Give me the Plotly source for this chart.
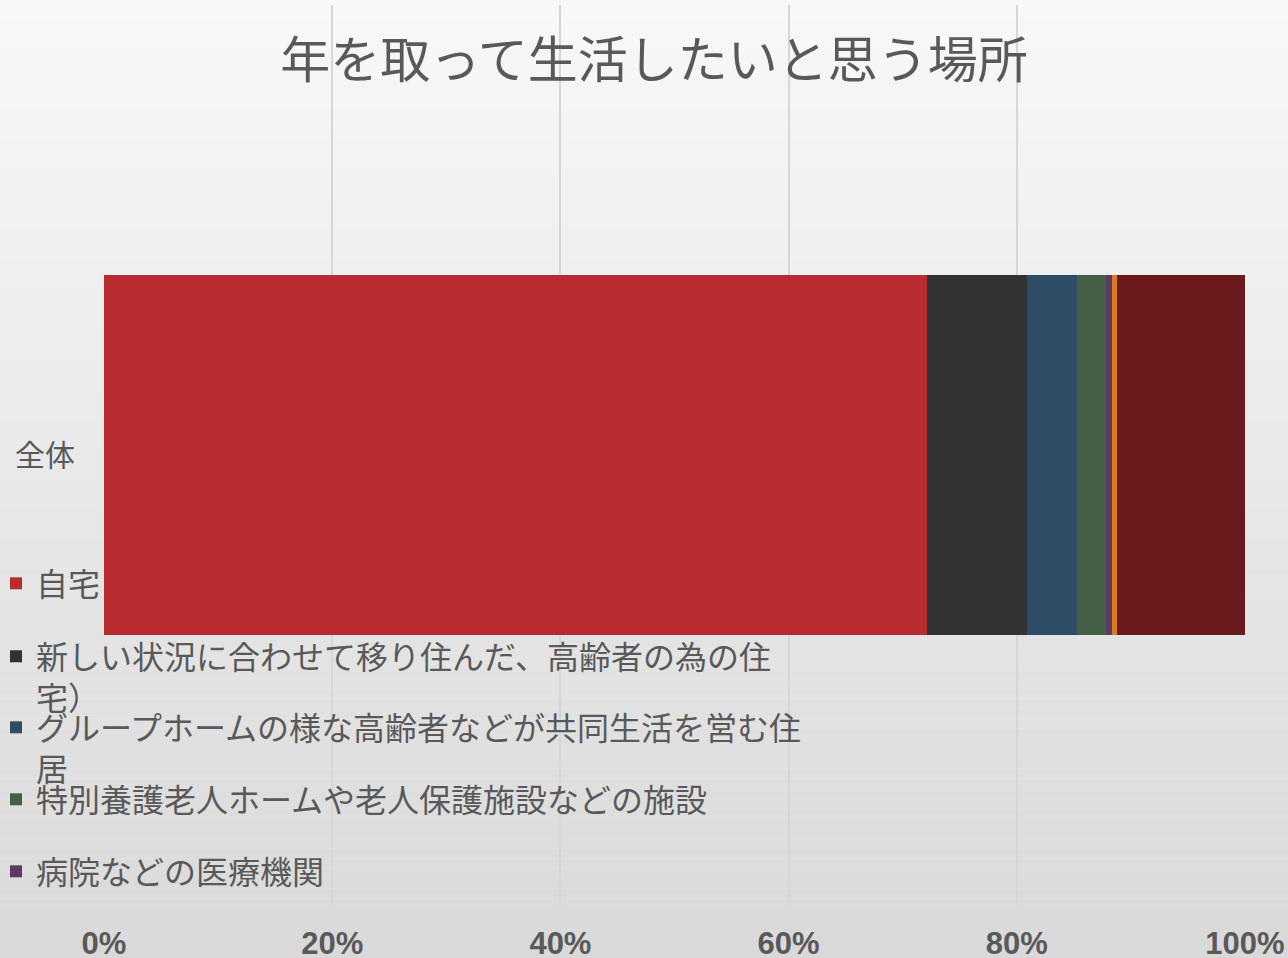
import plotly.graph_objects as go

# 年を取って生活したいと思う場所（全体, 100%積み上げ）
category = ["全体"]
series_names = [
    "自宅",
    "新しい状況に合わせて移り住んだ、高齢者の為の住<br>宅）",
    "グループホームの様な高齢者などが共同生活を営む住<br>居",
    "特別養護老人ホームや老人保護施設などの施設",
    "病院などの医療機関",
    "その他",
    "わからない",
]
series_values = [72.1, 8.8, 4.4, 2.5, 0.55, 0.44, 11.21]
series_colors = ["#b82c30", "#333333", "#2d4d66", "#445f45", "#5c3a63", "#d97b20", "#6b1b1e"]
in_legend = [True, True, True, True, True, False, False]
x_ticks = [0, 20, 40, 60, 80, 100]
x_tick_labels = [f"{v}%" for v in x_ticks]

W, H = 1288, 958
L, R, T, B = 104, 43, 5, 53
PW, PH = W - L - R, H - T - B

TEXT = "#595959"
JP = "Noto Sans CJK JP"

fig = go.Figure()

# legend slots: first-line centre (px from top) for each visible entry
legend_rows_px = [584, 657, 728, 800, 872]
legend_keys = ["legend", "legend2", "legend3", "legend4", "legend5"]

li = 0
for name, val, col, show in zip(series_names, series_values, series_colors, in_legend):
    kw = {}
    if show:
        kw["legend"] = legend_keys[li]
        li += 1
    fig.add_trace(go.Bar(
        y=category, x=[val], name=name, orientation="h",
        marker=dict(color=col, line=dict(width=0)),
        showlegend=show, **kw,
    ))

layout_legends = {}
for key, ypx in zip(legend_keys, legend_rows_px):
    layout_legends[key] = dict(
        x=(-4 - L) / PW, xanchor="left",
        y=(H - B - (ypx - 28)) / PH, yanchor="top",
        bgcolor="rgba(0,0,0,0)", borderwidth=0,
        font=dict(family=JP, size=32, color=TEXT),
        valign="top", itemclick=False, itemdoubleclick=False,
    )

# vertical light-grey gradient behind everything
shapes = []
n_bands = 96
for i in range(n_bands):
    top_px = H * i / n_bands
    bot_px = H * (i + 1) / n_bands
    t = (i + 0.5) / n_bands
    g = round(248 - (248 - 217) * t)
    shapes.append(dict(
        type="rect", xref="paper", yref="paper", layer="below",
        x0=-L / PW, x1=(W - L) / PW,
        y0=(H - B - bot_px) / PH, y1=(H - B - top_px) / PH,
        fillcolor=f"rgb({g},{g},{g})", line=dict(width=0),
    ))

fig.update_layout(
    width=W, height=H,
    margin=dict(l=L, r=R, t=T, b=B, autoexpand=False),
    barmode="stack", bargap=0.6,
    paper_bgcolor="#eeeeee", plot_bgcolor="rgba(0,0,0,0)",
    title=dict(
        text="年を取って生活したいと思う場所",
        font=dict(family=JP, size=50, color=TEXT),
        xref="paper", x=(654 - L) / PW, xanchor="center",
        yref="container", y=1 - 60 / H, yanchor="middle",
    ),
    xaxis=dict(
        range=[0, 100], tickmode="array", tickvals=x_ticks, ticktext=x_tick_labels,
        showgrid=True, gridcolor="#d6d6d6", gridwidth=1.5,
        zeroline=False, showline=False, ticks="",
        tickfont=dict(family="Liberation Sans", size=31, color=TEXT, weight="bold"),
        ticklabelstandoff=17, fixedrange=True,
    ),
    yaxis=dict(
        showgrid=False, zeroline=False, showline=False, ticks="",
        tickfont=dict(family=JP, size=30, color=TEXT),
        ticklabelstandoff=28, fixedrange=True,
    ),
    shapes=shapes,
    **layout_legends,
)

fig.write_html("out.html")
